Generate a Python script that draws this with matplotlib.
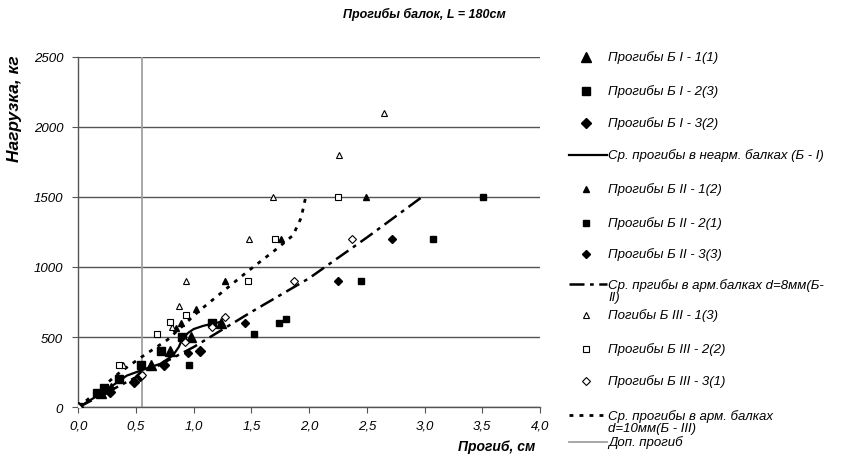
import matplotlib
matplotlib.use('Agg')
import matplotlib.pyplot as plt
from matplotlib.lines import Line2D
from matplotlib.ticker import FuncFormatter

plt.rcParams['font.family'] = ['Liberation Sans', 'DejaVu Sans']
plt.rcParams['font.style'] = 'italic'

# Б I - unreinforced beams
b1_1_x = [0, 0.20, 0.63, 0.79, 0.98, 1.24]
b1_1_y = [0, 100, 300, 400, 500, 600]
b1_2_x = [0, 0.16, 0.22, 0.35, 0.54, 0.72, 0.90, 1.16]
b1_2_y = [0, 100, 135, 200, 300, 400, 500, 600]
b1_3_x = [0, 0.20, 0.27, 0.48, 0.53, 0.74, 1.05]
b1_3_y = [0, 100, 107, 183, 226, 304, 400]
b1_avg_x = [0, 0.20, 0.42, 0.60, 0.71, 0.82, 0.87, 0.90, 0.95, 1.00, 1.08, 1.16, 1.23]
b1_avg_y = [0, 100, 226, 280, 310, 370, 430, 488, 530, 558, 580, 596, 608]

# Б II - d=8mm
b2_1_x = [0, 0.28, 0.85, 0.89, 1.02, 1.27, 1.76, 2.49]
b2_1_y = [0, 150, 565, 600, 700, 900, 1200, 1500]
b2_2_x = [0, 0.96, 1.52, 1.74, 1.80, 2.45, 3.07, 3.51]
b2_2_y = [0, 300, 520, 600, 630, 900, 1200, 1500]
b2_3_x = [0, 0.25, 0.95, 1.44, 2.25, 2.72]
b2_3_y = [0, 120, 390, 600, 900, 1200]
b2_avg_x = [0, 0.5, 1.0, 1.5, 2.0, 2.5, 2.98]
b2_avg_y = [0, 215, 430, 680, 920, 1210, 1500]

# Б III - d=10mm
b3_1_x = [0, 0.39, 0.81, 0.87, 0.93, 1.48, 1.69, 2.26, 2.65]
b3_1_y = [0, 300, 570, 720, 900, 1200, 1500, 1800, 2100]
b3_2_x = [0, 0.355, 0.68, 0.79, 0.93, 1.47, 1.70, 2.25]
b3_2_y = [0, 300, 525, 605, 660, 900, 1200, 1500]
b3_3_x = [0, 0.55, 0.92, 1.16, 1.27, 1.87, 2.37]
b3_3_y = [0, 230, 465, 570, 640, 900, 1200]
b3_avg_x = [0, 0.36, 0.55, 0.77, 1.05, 1.46, 1.72, 1.86, 1.93, 1.97]
b3_avg_y = [0, 250, 360, 480, 690, 964, 1130, 1226, 1350, 1500]

dop_x = 0.55

W, H = 845, 456
fig = plt.figure(figsize=(W / 100, H / 100), dpi=100)
ax = fig.add_axes([0.0928, 0.1046, 0.5462, 0.7693])

dop = ax.axvline(dop_x, color='#a0a0a0', lw=1.3, zorder=1)

big = dict(color='black', ls='none', zorder=4)
opn = dict(color='black', mfc='white', mew=0.8, ls='none', zorder=4)
series = []
series.append((ax.plot(b1_1_x, b1_1_y, marker='^', ms=6.5, **big)[0], 'Прогибы Б I - 1(1)'))
series.append((ax.plot(b1_2_x, b1_2_y, marker='s', ms=6.3, **big)[0], 'Прогибы Б I - 2(3)'))
series.append((ax.plot(b1_3_x, b1_3_y, marker='D', ms=5.0, **big)[0], 'Прогибы Б I - 3(2)'))
series.append((ax.plot(b1_avg_x, b1_avg_y, color='black', lw=1.6, zorder=3)[0],
               'Ср. прогибы в неарм. балках (Б - I)'))
series.append((ax.plot(b2_1_x, b2_1_y, marker='^', ms=4.8, **big)[0], 'Прогибы Б II - 1(2)'))
series.append((ax.plot(b2_2_x, b2_2_y, marker='s', ms=4.6, **big)[0], 'Прогибы Б II - 2(1)'))
series.append((ax.plot(b2_3_x, b2_3_y, marker='D', ms=3.8, **big)[0], 'Прогибы Б II - 3(3)'))
series.append((ax.plot(b2_avg_x, b2_avg_y, color='black', lw=1.8, dashes=(6, 2.2, 1.5, 2.2), zorder=3)[0],
               'Ср. пргибы в арм.балках d=8мм(Б-\nII)'))
series.append((ax.plot(b3_1_x, b3_1_y, marker='^', ms=4.6, **opn)[0], 'Погибы Б III - 1(3)'))
series.append((ax.plot(b3_2_x, b3_2_y, marker='s', ms=4.4, **opn)[0], 'Прогибы Б III - 2(2)'))
series.append((ax.plot(b3_3_x, b3_3_y, marker='D', ms=3.6, **opn)[0], 'Прогибы Б III - 3(1)'))
series.append((ax.plot(b3_avg_x, b3_avg_y, color='black', lw=2.0, dashes=(1.4, 2.2), zorder=3)[0],
               'Ср. прогибы в арм. балках\nd=10мм(Б - III)'))
series.append((dop, 'Доп. прогиб'))

ax.set_xlim(0, 4.0)
ax.set_ylim(0, 2500)
ax.set_xticks([0, 0.5, 1.0, 1.5, 2.0, 2.5, 3.0, 3.5, 4.0])
ax.set_yticks([0, 500, 1000, 1500, 2000, 2500])
ax.xaxis.set_major_formatter(FuncFormatter(lambda v, p: f'{v:.1f}'.replace('.', ',')))
ax.tick_params(labelsize=9.5, length=4, width=0.8, color='#555555', direction='out')
ax.tick_params(axis='x', pad=5)
ax.tick_params(axis='y', pad=7)
ax.yaxis.grid(True, color='#555555', lw=1.0)
ax.set_axisbelow(True)
for s in ['top', 'right']:
    ax.spines[s].set_visible(False)
for s in ['left', 'bottom']:
    ax.spines[s].set_color('#555555')
    ax.spines[s].set_linewidth(1.0)

fig.text(0.502, 0.969, 'Прогибы балок, L = 180см', fontsize=9, fontweight='bold',
         ha='center', va='center')
fig.text(0.634, 0.02, 'Прогиб, см', fontsize=10, fontweight='bold', ha='right', va='center')
fig.text(0.0166, 1 - 109 / H, 'Нагрузка, кг', fontsize=12.5, fontweight='bold', rotation=90,
         ha='center', va='center')

# legend laid out by hand, like the Excel one (pixel rows from the top)
legend_rows = [58, 92, 124, 156, 190, 224, 255, 285, 316, 350, 382, 416, 443]
for (art, label), ypx in zip(series, legend_rows):
    yf = 1 - ypx / H
    if art.get_marker() in (None, 'None', '', ' '):
        h = Line2D([569 / W, 607 / W], [yf, yf])
    else:
        h = Line2D([586 / W], [yf])
    h.update_from(art)
    h.set_transform(fig.transFigure)
    h.set_clip_on(False)
    h.set_clip_box(None)
    fig.add_artist(h)
    nlines = label.count('\n') + 1
    fig.text(608 / W, 1 - (ypx + 6.6 * (nlines - 1)) / H, label, fontsize=9.5,
             va='center', ha='left', linespacing=1.0)

fig.savefig('out.png', dpi=100)
